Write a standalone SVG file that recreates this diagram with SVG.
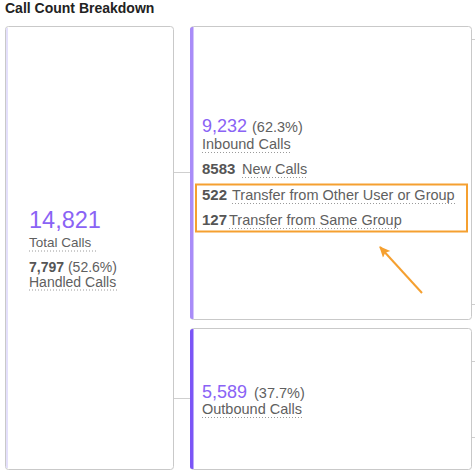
<svg xmlns="http://www.w3.org/2000/svg" width="475" height="476" viewBox="0 0 475 476">
<defs>
<style>
.box{fill:#fff;stroke:#c9c9c9;stroke-width:1}
.num{font-family:"Liberation Sans",Arial,sans-serif;fill:#8a63f5}
.lbl{font-family:"Liberation Sans",Arial,sans-serif;fill:#5f5f5f;font-size:14.5px}
.bold{font-weight:bold;fill:#555}
.ul{stroke:#9a9a9a;stroke-width:1;stroke-dasharray:1 2}
.conn{stroke:#cfcfcf;stroke-width:1;fill:none}
</style>
<marker id="ah" viewBox="0 0 10 10" refX="9" refY="5" markerWidth="11" markerHeight="11" orient="auto-start-reverse" markerUnits="userSpaceOnUse">
<path d="M0,0.5 L10,5 L0,9.5 L2,5 z" fill="#f5a030"/>
</marker>
</defs>
<rect width="475" height="476" fill="#fff"/>
<text x="5" y="13" font-family="Liberation Sans,Arial,sans-serif" font-weight="bold" font-size="14" fill="#222">Call Count Breakdown</text>

<g id="connectors">
<line class="conn" x1="174" y1="172.5" x2="190" y2="172.5"/>
<line class="conn" x1="174" y1="398.5" x2="190" y2="398.5"/>
<line class="conn" x1="472" y1="39.5" x2="475" y2="39.5"/>
<line class="conn" x1="472" y1="304.5" x2="475" y2="304.5"/>
<line class="conn" x1="472" y1="361.5" x2="475" y2="361.5"/>
<line class="conn" x1="472" y1="437.5" x2="475" y2="437.5"/>
</g>

<g id="total">
<rect class="box" x="5.5" y="26.5" width="168" height="443" rx="3"/>
<rect x="6" y="28" width="2" height="440" fill="#e4e0fb"/>
<text class="num" x="29" y="228" font-size="23.5">14,821</text>
<text class="lbl" x="29" y="247" style="font-size:13.5px">Total Calls</text>
<line class="ul" x1="29" y1="251" x2="96" y2="251"/>
<text class="lbl" x="29" y="272" style="font-size:14px"><tspan class="bold">7,797</tspan> (52.6%)</text>
<text class="lbl" x="29" y="287" style="font-size:14px">Handled Calls</text>
<line class="ul" x1="29" y1="290" x2="117" y2="290"/>
</g>

<g id="inbound">
<rect class="box" x="190.5" y="26.5" width="281" height="293" rx="3"/>
<path d="M193.5,27 h-1 a2.5,2.5 0 0 0 -2.5,2.5 v287 a2.5,2.5 0 0 0 2.5,2.5 h1 z" fill="#a98cf8"/>
<text class="num" x="202" y="132" font-size="18">9,232</text>
<text class="lbl" x="252" y="132">(62.3%)</text>
<text class="lbl" x="202" y="149">Inbound Calls</text>
<line class="ul" x1="202" y1="152.5" x2="290" y2="152.5"/>
<text class="lbl bold" x="202" y="174" style="font-size:15px">8583</text>
<text class="lbl" x="242" y="174">New Calls</text>
<line class="ul" x1="242" y1="177.5" x2="306" y2="177.5"/>
<text class="lbl bold" x="202" y="200" style="font-size:15px">522</text>
<text class="lbl" x="232" y="200">Transfer from Other User or Group</text>
<line class="ul" x1="232" y1="203.5" x2="455" y2="203.5"/>
<text class="lbl bold" x="202" y="225" style="font-size:15px">127</text>
<text class="lbl" x="229" y="225">Transfer from Same Group</text>
<line class="ul" x1="229" y1="228.5" x2="400" y2="228.5"/>
</g>

<g id="outbound">
<rect class="box" x="190.5" y="328.5" width="281" height="141" rx="3"/>
<path d="M193.5,329 h-1 a2.5,2.5 0 0 0 -2.5,2.5 v135 a2.5,2.5 0 0 0 2.5,2.5 h1 z" fill="#7b55f6"/>
<text class="num" x="202" y="398" font-size="18">5,589</text>
<text class="lbl" x="254" y="398">(37.7%)</text>
<text class="lbl" x="202" y="414">Outbound Calls</text>
<line class="ul" x1="202" y1="417.5" x2="302" y2="417.5"/>
</g>

<g id="highlight">
<rect x="196" y="184.5" width="271" height="47" fill="none" stroke="#f5a030" stroke-width="2"/>
<line x1="422" y1="293" x2="380" y2="247" stroke="#f5a030" stroke-width="2" marker-end="url(#ah)"/>
</g>
</svg>
